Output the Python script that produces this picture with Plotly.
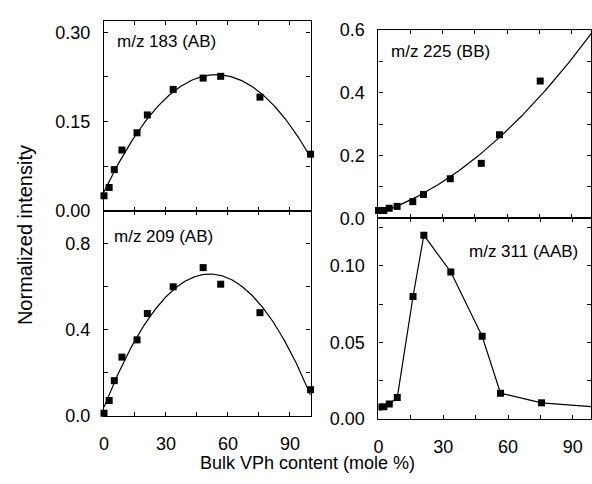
import numpy as np
import plotly.graph_objects as go

# Bulk VPh content (mole %) of each copolymer sample
vph = [0, 2.5, 5, 8.7, 16, 21, 33.5, 48, 56.5, 75.5, 100]

# Normalized intensities of the fragment ions
mz183_ab = [0.025, 0.039, 0.069, 0.102, 0.131, 0.161, 0.204, 0.223, 0.226, 0.191, 0.095]
mz225_bb = [0.025, 0.025, 0.032, 0.038, 0.053, 0.076, 0.126, 0.175, 0.266, 0.437, 0.573]
mz209_ab = [0.012, 0.071, 0.163, 0.272, 0.352, 0.474, 0.598, 0.687, 0.610, 0.478, 0.121]
mz311_aab = [0.0079, 0.0080, 0.0098, 0.0140, 0.080, 0.120, 0.096, 0.054, 0.0169, 0.0106, 0.0079]

# Tick values / labels
x_ticks = [0, 15, 30, 45, 60, 75, 90]
x_labels = ["0", "", "30", "", "60", "", "90"]
y183_ticks = [0, 0.075, 0.15, 0.225, 0.30]
y183_labels = ["0.00", "", "0.15", "", "0.30"]
y225_ticks = [0, 0.1, 0.2, 0.3, 0.4, 0.5, 0.6]
y225_labels = ["0.0", "", "0.2", "", "0.4", "", "0.6"]
y209_ticks = [0, 0.2, 0.4, 0.6, 0.8]
y209_labels = ["0.0", "", "0.4", "", "0.8"]
y311_ticks = [0, 0.025, 0.05, 0.075, 0.10, 0.125]
y311_labels = ["0.00", "", "0.05", "", "0.10", ""]

FONT = "Liberation Sans, Arial, sans-serif"
W, H = 592, 484


def px_x(p):
    return p / W


def px_y(p):
    return (H - p) / H


def quad_fit(x, y, n=200):
    coef = np.polyfit(x, y, 2)
    xs = np.linspace(min(x), max(x), n)
    return xs, np.polyval(coef, xs)


marker = dict(symbol="square", size=7, color="black")
line = dict(color="black", width=1.2)

fig = go.Figure()

panels = [
    # (x axis, y axis, data, fitted?)
    ("x", "y", mz183_ab, True),
    ("x2", "y2", mz225_bb, True),
    ("x3", "y3", mz209_ab, True),
    ("x4", "y4", mz311_aab, False),
]

for xa, ya, ys, fitted in panels:
    if fitted:
        fx, fy = quad_fit(vph, ys)
        fig.add_trace(go.Scatter(x=fx, y=fy, mode="lines", line=line,
                                 xaxis=xa, yaxis=ya, showlegend=False,
                                 hoverinfo="skip"))
        fig.add_trace(go.Scatter(x=vph, y=ys, mode="markers", marker=marker,
                                 xaxis=xa, yaxis=ya, showlegend=False,
                                 cliponaxis=False))
    else:
        fig.add_trace(go.Scatter(x=vph, y=ys, mode="lines+markers",
                                 marker=marker, line=line,
                                 xaxis=xa, yaxis=ya, showlegend=False))

axis_common = dict(
    showline=True, linecolor="black", linewidth=1.3,
    ticks="inside", ticklen=4, tickwidth=1, tickcolor="black",
    showgrid=False, zeroline=False,
    tickfont=dict(family=FONT, size=18, color="black"),
)

left_dom = [px_x(100), px_x(308.7)]
right_dom = [px_x(377.3), 1.0]

fig.update_layout(
    width=W, height=H,
    margin=dict(l=0, r=0, t=0, b=0),
    paper_bgcolor="white", plot_bgcolor="white",
    font=dict(family=FONT, color="black"),
    xaxis=dict(axis_common, domain=left_dom, range=[0, 100], anchor="y",
               tickvals=x_ticks, showticklabels=False, mirror="allticks"),
    yaxis=dict(axis_common, domain=[px_y(209.3), px_y(11.7)], range=[0, 0.3187],
               anchor="x", tickvals=y183_ticks, ticktext=y183_labels,
               mirror="allticks", ticklabelstandoff=9),
    xaxis2=dict(axis_common, domain=right_dom, range=[0, 99.2], anchor="y2",
                tickvals=x_ticks, showticklabels=False, mirror="allticks"),
    yaxis2=dict(axis_common, domain=[px_y(217.3), px_y(20.7)], range=[0, 0.6],
                anchor="x2", tickvals=y225_ticks, ticktext=y225_labels,
                mirror="allticks", ticklabelstandoff=9),
    xaxis3=dict(axis_common, domain=left_dom, range=[0, 100], anchor="y3",
                tickvals=x_ticks, ticktext=x_labels, mirror="allticks",
                ticklabelstandoff=11),
    yaxis3=dict(axis_common, domain=[px_y(423.3), px_y(209.3)], range=[0, 0.951],
                anchor="x3", tickvals=y209_ticks, ticktext=y209_labels,
                mirror="allticks", ticklabelstandoff=9),
    xaxis4=dict(axis_common, domain=right_dom, range=[0, 98.4], anchor="y4",
                tickvals=x_ticks, ticktext=x_labels, mirror="allticks",
                ticklabelstandoff=11),
    yaxis4=dict(axis_common, domain=[px_y(426.7), px_y(217.3)], range=[0, 0.131],
                anchor="x4", tickvals=y311_ticks, ticktext=y311_labels,
                mirror="allticks", ticklabelstandoff=9),
)

label_font = dict(family=FONT, size=17, color="black")
annotations = [
    dict(text="m/z 183 (AB)", x=px_x(111), y=px_y(33)),
    dict(text="m/z 225 (BB)", x=px_x(388), y=px_y(43)),
    dict(text="m/z 209 (AB)", x=px_x(108), y=px_y(236.7)),
    dict(text="m/z 311 (AAB)", x=px_x(466.5), y=px_y(251.7)),
]
for a in annotations:
    fig.add_annotation(xref="paper", yref="paper", xanchor="left",
                       yanchor="middle", showarrow=False, font=label_font, **a)

fig.add_annotation(text="Normalized intensity", xref="paper", yref="paper",
                   x=px_x(20), y=px_y(235), textangle=-90, showarrow=False,
                   xanchor="center", yanchor="middle",
                   font=dict(family=FONT, size=20, color="black"))
fig.add_annotation(text="Bulk VPh content (mole %)", xref="paper", yref="paper",
                   x=px_x(306), y=px_y(484), showarrow=False,
                   xanchor="center", yanchor="bottom", borderpad=0,
                   font=dict(family=FONT, size=18, color="black"))

fig.write_html("out.html")
